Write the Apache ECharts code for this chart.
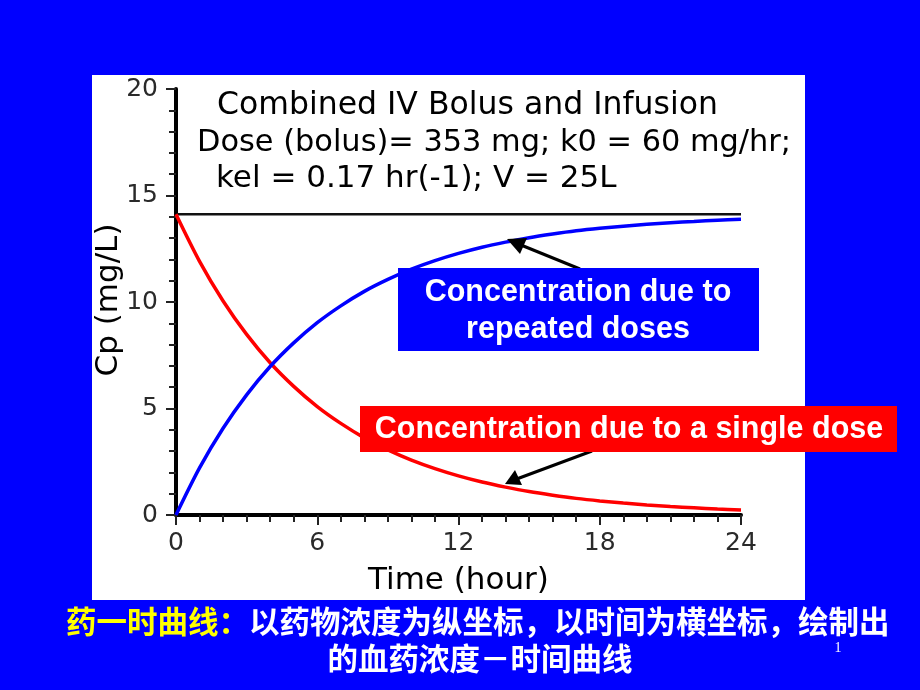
<!DOCTYPE html>
<html><head><meta charset="utf-8">
<script src="https://cdn.jsdelivr.net/npm/echarts@6/dist/echarts.min.js"></script>
<style>html,body{margin:0;padding:0;background:#0000FF;}#c{width:920px;height:690px;}</style>
</head><body><div id="c"></div>
<script>
// Time points (hour)
const hours = [0,1,2,3,4,5,6,7,8,9,10,11,12,13,14,15,16,17,18,19,20,21,22,23,24];
// Concentration due to a single dose (mg/L)
const singleDose = [14.12,11.91,10.05,8.48,7.15,6.04,5.09,4.30,3.62,3.06,2.58,2.18,1.84,1.55,1.31,1.10,0.93,0.78,0.66,0.56,0.47,0.40,0.34,0.28,0.24];
// Concentration due to repeated doses (mg/L)
const repeatedDoses = [0,2.21,4.07,5.64,6.97,8.08,9.03,9.82,10.50,11.06,11.54,11.94,12.28,12.57,12.81,13.02,13.19,13.34,13.46,13.56,13.65,13.72,13.78,13.84,13.88];
// Combined steady level
const combinedLevel = 14.12;
const xTicks = [0,6,12,18,24];
const yTicks = [0,5,10,15,20];

const titleLines = ['Combined IV Bolus and Infusion','Dose (bolus)= 353 mg; k0 = 60 mg/hr;','kel = 0.17 hr(-1); V = 25L'];
const yAxisName = 'Cp (mg/L)';
const xAxisName = 'Time (hour)';

const chart = echarts.init(document.getElementById('c'));
const sans = 'DejaVu Sans';

chart.setOption({
  backgroundColor: '#0000FF',
  animation: false,
  grid: {left: 176, right: 179, top: 89, bottom: 175},
  xAxis: {
    type: 'value', min: xTicks[0], max: xTicks[xTicks.length-1], interval: 6,
    name: xAxisName, nameLocation: 'middle', nameGap: 50,
    nameTextStyle: {fontFamily: sans, fontSize: 31, color: '#000'},
    axisLine: {lineStyle: {color: '#000', width: 4}},
    axisTick: {length: 10, lineStyle: {color: '#222', width: 2}},
    minorTick: {show: true, splitNumber: 6, length: 7, lineStyle: {color: '#222', width: 2}},
    axisLabel: {fontFamily: sans, fontSize: 25, color: '#2a2a2a', margin: 16},
    splitLine: {show: false}
  },
  yAxis: {
    type: 'value', min: yTicks[0], max: yTicks[yTicks.length-1], interval: 5,
    axisLine: {show: true, lineStyle: {color: '#000', width: 4}},
    axisTick: {show: true, length: 10, lineStyle: {color: '#222', width: 2}},
    minorTick: {show: true, splitNumber: 5, length: 7, lineStyle: {color: '#222', width: 2}},
    axisLabel: {fontFamily: sans, fontSize: 25, color: '#2a2a2a', margin: 18},
    splitLine: {show: false}
  },
  series: [
    {type: 'line', data: [[hours[0], combinedLevel],[hours[hours.length-1], combinedLevel]], symbol: 'none',
     lineStyle: {color: '#111', width: 2.5}, z: 3},
    {type: 'line', data: hours.map((h,i)=>[h, singleDose[i]]), symbol: 'none', smooth: 0.3,
     lineStyle: {color: '#FF0000', width: 3.5}, z: 4},
    {type: 'line', data: hours.map((h,i)=>[h, repeatedDoses[i]]), symbol: 'none', smooth: 0.3,
     lineStyle: {color: '#0000FF', width: 3.5}, z: 4}
  ],
  graphic: [
    {type: 'rect', shape: {x: 92, y: 75, width: 713, height: 525}, style: {fill: '#fff'}, z: -10, silent: true},
    {type: 'text', x: 109, y: 300, rotation: Math.PI/2,
     style: {x: 0, y: 0, text: yAxisName, font: '31px "DejaVu Sans"', fill: '#000', textAlign: 'center', textVerticalAlign: 'middle'}, z: 50},
    {type: 'text', style: {x: 217, y: 106, text: titleLines[0], font: '31.5px "DejaVu Sans"', fill: '#000', textVerticalAlign: 'middle'}, z: 50},
    {type: 'text', style: {x: 197, y: 143, text: titleLines[1], font: '30.4px "DejaVu Sans"', fill: '#000', textVerticalAlign: 'middle'}, z: 50},
    {type: 'text', style: {x: 216, y: 179, text: titleLines[2], font: '31px "DejaVu Sans"', fill: '#000', textVerticalAlign: 'middle'}, z: 50},
    // arrows
    {type: 'line', shape: {x1: 580, y1: 269, x2: 516, y2: 243}, style: {stroke: '#000', lineWidth: 3}, z: 50},
    {type: 'polygon', shape: {points: [[507,239],[527,238],[520,254]]}, style: {fill: '#000'}, z: 50},
    {type: 'line', shape: {x1: 592, y1: 451, x2: 514, y2: 480}, style: {stroke: '#000', lineWidth: 3}, z: 50},
    {type: 'polygon', shape: {points: [[505,484],[515,470],[522,485]]}, style: {fill: '#000'}, z: 50},
    // annotation boxes
    {type: 'rect', shape: {x: 398, y: 268, width: 361, height: 83}, style: {fill: '#0000FF'}, z: 60},
    {type: 'text', style: {x: 578, y: 293, text: 'Concentration due to', font: 'bold 30.5px "Liberation Sans"', fill: '#fff', textAlign: 'center', textVerticalAlign: 'middle'}, z: 61},
    {type: 'text', style: {x: 578, y: 330, text: 'repeated doses', font: 'bold 30.5px "Liberation Sans"', fill: '#fff', textAlign: 'center', textVerticalAlign: 'middle'}, z: 61},
    {type: 'rect', shape: {x: 360, y: 406, width: 537, height: 46}, style: {fill: '#FF0000'}, z: 60},
    {type: 'text', style: {x: 629, y: 430, text: 'Concentration due to a single dose', font: 'bold 30.5px "Liberation Sans"', fill: '#fff', textAlign: 'center', textVerticalAlign: 'middle'}, z: 61},
    // Chinese caption
    {type: 'text', style: {x: 66, y: 621, text: '{y|药一时曲线：}{w|以药物浓度为纵坐标，以时间为横坐标，绘制出}',
      rich: {y: {fill: '#FFFF00', font: 'bold 30.5px "Noto Sans CJK SC"'}, w: {fill: '#fff', font: 'bold 30.5px "Noto Sans CJK SC"'}},
      textVerticalAlign: 'middle'}, z: 50},
    {type: 'text', style: {x: 480, y: 658, text: '的血药浓度－时间曲线', font: 'bold 30.5px "Noto Sans CJK SC"', fill: '#fff', textAlign: 'center', textVerticalAlign: 'middle'}, z: 50},
    {type: 'text', style: {x: 838, y: 648, text: '1', font: '14px "Liberation Serif"', fill: '#fff', textAlign: 'center', textVerticalAlign: 'middle'}, z: 50}
  ]
});
</script></body></html>
